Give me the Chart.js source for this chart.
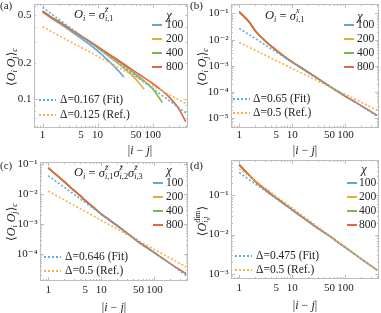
<!DOCTYPE html>
<html><head><meta charset="utf-8">
<script src="https://cdn.jsdelivr.net/npm/chart.js@4.4.1/dist/chart.umd.min.js"></script>
<style>
body{margin:0;background:#fff;width:381px;height:313px;position:relative;overflow:hidden;font-family:'Liberation Serif','DejaVu Serif','DejaVu Sans',serif;color:#222}
canvas{position:absolute}
.t{position:absolute;white-space:nowrap;line-height:1}
.ss{display:inline-block;vertical-align:-0.28em;font-size:66%;line-height:1.05;text-align:left}
.ss span{display:block}
sub{font-size:68%;vertical-align:-0.3em;line-height:0}
</style></head><body>
<canvas id="pa" width="190" height="145" style="left:0;top:0"></canvas>
<canvas id="pb" width="191" height="145" style="left:190px;top:0"></canvas>
<canvas id="pc" width="190" height="150" style="left:0;top:150px"></canvas>
<canvas id="pd" width="191" height="150" style="left:190px;top:150px"></canvas>
<script>
const FONT = "'Liberation Serif','DejaVu Serif',serif";
const SEP = [1,1.5,2,3,4,5,7,10,15,20,30,50,70,100,150,200,300,400];
const DOT_X = [1, 400];
const CHI = ['100','200','400','800'];
const X_TICKS = [1,5,10,50,100];
const X_LABELS = ['1','5','10','50','100'];

// (a) sigma^z_{i,1}
const A_Y_TICKS = [0.1,0.2,0.5];
const A_Y_LABELS = ['0.1','0.2','0.5'];
const A_100 = [0.53,0.465,0.43,0.378,0.344,0.32,0.287,0.252,0.213,0.188,0.153];
const A_200 = [0.54,0.472,0.437,0.387,0.354,0.331,0.299,0.266,0.232,0.210,0.181,0.146,0.121];
const A_400 = [0.54,0.474,0.439,0.389,0.357,0.334,0.303,0.271,0.239,0.218,0.191,0.160,0.142,0.122,0.094];
const A_800 = [0.54,0.475,0.44,0.39,0.358,0.336,0.305,0.274,0.242,0.222,0.196,0.167,0.151,0.135,0.117,0.104,0.083,0.065];
const A_FIT = [0.58, 0.077];
const A_REF = [0.40, 0.092];

// (b) sigma^x_{i,1}
const B_Y_TICKS = [1e-1,1e-2,1e-3,1e-4,1e-5];
const B_Y_LABELS = ['10⁻¹','10⁻²','10⁻³','10⁻⁴','10⁻⁵'];
const B_100 = [0.115,0.05,0.022,0.0095,0.0056,0.0039,0.0023,0.00138,8.2e-4,5.5e-4,3.2e-4];
const B_200 = [0.115,0.05,0.022,0.0095,0.0056,0.0039,0.0023,0.00138,8.2e-4,5.6e-4,3.3e-4,1.62e-4,1.04e-4];
const B_400 = [0.115,0.05,0.022,0.0095,0.0056,0.0039,0.0023,0.00138,8.2e-4,5.6e-4,3.3e-4,1.65e-4,1.08e-4,6.7e-5,4.1e-5];
const B_800 = [0.115,0.05,0.022,0.0095,0.0056,0.0039,0.0023,0.00138,8.2e-4,5.6e-4,3.3e-4,1.65e-4,1.08e-4,6.8e-5,4.2e-5,2.95e-5,1.8e-5,1.25e-5];
const B_FIT = [0.027, 1.15e-5];
const B_REF = [0.0078, 2.0e-5];

// (c) sigma^z sigma^z sigma^z
const C_Y_TICKS = [1e-1,1e-2,1e-3,1e-4];
const C_Y_LABELS = ['10⁻¹','10⁻²','10⁻³','10⁻⁴'];
const C_100 = [0.074,0.04,0.026,0.0135,0.0088,0.006,0.0037,0.00215,1.28e-3,8.7e-4,5.0e-4];
const C_200 = [0.074,0.04,0.026,0.0135,0.0088,0.006,0.0037,0.00215,1.28e-3,8.8e-4,5.1e-4,2.5e-4,1.65e-4];
const C_400 = [0.074,0.04,0.026,0.0135,0.0088,0.006,0.0037,0.00215,1.28e-3,8.8e-4,5.1e-4,2.55e-4,1.7e-4,1.1e-4,6.6e-5];
const C_800 = [0.074,0.04,0.026,0.0135,0.0088,0.006,0.0037,0.00215,1.28e-3,8.8e-4,5.1e-4,2.55e-4,1.7e-4,1.12e-4,6.8e-5,4.8e-5,3.0e-5,2.2e-5];
const C_FIT = [0.041, 1.9e-5];
const C_REF = [0.0125, 3.7e-5];

// (d) dimer
const D_Y_TICKS = [1e-1,1e-2,1e-3];
const D_Y_LABELS = ['10⁻¹','10⁻²','10⁻³'];
const D_100 = [0.58,0.33,0.225,0.14,0.104,0.083,0.06,0.042,0.0285,0.0215,0.0145];
const D_200 = [0.58,0.33,0.225,0.14,0.104,0.083,0.06,0.042,0.0285,0.0215,0.0145,0.0092,0.0066];
const D_400 = [0.58,0.33,0.225,0.14,0.104,0.083,0.06,0.042,0.0285,0.0215,0.0145,0.0092,0.0066,0.0047,0.0032];
const D_800 = [0.58,0.33,0.225,0.14,0.104,0.083,0.06,0.042,0.0285,0.0215,0.0145,0.0092,0.0066,0.0047,0.0032,0.0024,0.00163,0.00125];
const D_FIT = [0.37, 1.25e-3];
const D_REF = [0.46, 1.2e-3];

const COLORS = ['#5ba6dc','#f0a63a','#7db84a','#e5653c'];
const FIT_COLOR = '#5aaee2', REF_COLOR = '#f6b24a';

function pts(xs, ys) { return ys.map((y, i) => ({ x: xs[i], y })); }

function logMarks(min, max) {
  const out = [];
  for (let k = Math.floor(Math.log10(min)); k <= Math.ceil(Math.log10(max)); k++)
    for (let m = 1; m <= 9; m++) {
      const v = m * Math.pow(10, k);
      if (v >= min && v <= max) out.push(v);
    }
  return out;
}

const framePlugin = {
  id: 'frame',
  beforeDatasetsDraw(chart) {
    const { ctx, chartArea: a, scales: { x, y } } = chart;
    ctx.save();
    ctx.strokeStyle = '#bdbdbd'; ctx.lineWidth = 1;
    ctx.strokeRect(Math.round(a.left) + 0.5, Math.round(a.top) + 0.5,
      Math.round(a.right - a.left) - 1, Math.round(a.bottom - a.top) - 1);
    ctx.beginPath();
    const isMajor = v => Math.abs(Math.log10(v) - Math.round(Math.log10(v))) < 1e-6;
    for (const v of logMarks(x.min, x.max)) {
      const p = Math.round(x.getPixelForValue(v)) + 0.5, len = isMajor(v) ? 4 : 2;
      ctx.moveTo(p, a.bottom); ctx.lineTo(p, a.bottom - len);
      ctx.moveTo(p, a.top); ctx.lineTo(p, a.top + len);
    }
    for (const v of logMarks(y.min, y.max)) {
      const p = Math.round(y.getPixelForValue(v)) + 0.5, len = isMajor(v) ? 4 : 2;
      ctx.moveTo(a.left, p); ctx.lineTo(a.left + len, p);
      ctx.moveTo(a.right, p); ctx.lineTo(a.right - len, p);
    }
    ctx.stroke();
    ctx.restore();
  }
};

function makePanel(id, p) {
  const [fl, ft, fr, fb] = p.frame;
  const cv = document.getElementById(id);
  const W = cv.width, H = cv.height;
  const solid = p.series.map((ys, i) => ({
    label: CHI[i], data: pts(SEP, ys), borderColor: COLORS[i], borderWidth: 1.6,
    pointRadius: 0, fill: false, cubicInterpolationMode: 'monotone'
  })).reverse();
  const dotted = [
    { label: 'fit', data: pts(DOT_X, p.fit), borderColor: FIT_COLOR, borderWidth: 1.6, borderDash: [2, 2], pointRadius: 0 },
    { label: 'ref', data: pts(DOT_X, p.ref), borderColor: REF_COLOR, borderWidth: 1.6, borderDash: [2, 2], pointRadius: 0 },
  ];
  new Chart(cv, {
    type: 'line',
    data: { datasets: [...dotted, ...solid] },
    options: {
      responsive: false, animation: false, events: [],
      layout: { padding: { left: 0, top: ft, right: W - fr, bottom: 0 } },
      plugins: { legend: { display: false }, tooltip: { enabled: false } },
      scales: {
        x: {
          type: 'logarithmic', min: 0.72, max: 430,
          grid: { display: false, drawTicks: false }, border: { display: false },
          ticks: { autoSkip: false, maxRotation: 0, padding: p.xPad, color: '#222',
                   font: { family: FONT, size: 11 },
                   callback: v => { const i = X_TICKS.indexOf(v); return i < 0 ? '' : X_LABELS[i]; } },
          afterBuildTicks: s => { s.ticks = X_TICKS.map(v => ({ value: v })); },
          afterFit: s => { s.height = H - fb; s.paddingLeft = 0; s.paddingRight = 0; }
        },
        y: {
          type: 'logarithmic', min: p.ymin, max: p.ymax,
          grid: { display: false, drawTicks: false }, border: { display: false },
          ticks: { autoSkip: false, padding: 2.5, color: '#222',
                   font: { family: FONT, size: 11 },
                   callback: v => { const i = p.yticks.indexOf(v); return i < 0 ? '' : p.ylabels[i]; } },
          afterBuildTicks: s => { s.ticks = p.yticks.map(v => ({ value: v })); },
          afterFit: s => { s.width = fl; s.paddingTop = 0; s.paddingBottom = 0; }
        }
      }
    },
    plugins: [framePlugin]
  });
}

makePanel('pa', { frame: [34, 4, 187.5, 127.5], ymin: 0.0582, ymax: 0.618, xPad: 1.5,
  yticks: A_Y_TICKS, ylabels: A_Y_LABELS, series: [A_100, A_200, A_400, A_800], fit: A_FIT, ref: A_REF });
makePanel('pb', { frame: [41, 4, 189, 127.5], ymin: 4.33e-6, ymax: 0.231, xPad: 1.5,
  yticks: B_Y_TICKS, ylabels: B_Y_LABELS, series: [B_100, B_200, B_400, B_800], fit: B_FIT, ref: B_REF });
makePanel('pc', { frame: [40, 12, 188, 131], ymin: 1.26e-5, ymax: 0.117, xPad: 3,
  yticks: C_Y_TICKS, ylabels: C_Y_LABELS, series: [C_100, C_200, C_400, C_800], fit: C_FIT, ref: C_REF });
makePanel('pd', { frame: [41, 10, 189, 129], ymin: 7.47e-4, ymax: 0.77, xPad: 3,
  yticks: D_Y_TICKS, ylabels: D_Y_LABELS, series: [D_100, D_200, D_400, D_800], fit: D_FIT, ref: D_REF });

// ---- overlay text ----
function txt(html, x, y, size, mode) {
  const d = document.createElement('div');
  d.className = 't'; d.innerHTML = html;
  d.style.left = x + 'px'; d.style.top = y + 'px'; d.style.fontSize = size + 'px';
  let tf = mode === 'left' ? 'translate(0,-50%)' : 'translate(-50%,-50%)';
  if (mode === 'rot') tf += ' rotate(-90deg)';
  d.style.transform = tf;
  document.body.appendChild(d);
}
function seg(x1, x2, y, color, dotted) {
  const d = document.createElement('div');
  d.style.cssText = `position:absolute;left:${x1}px;top:${Math.round(y) - 1}px;width:${x2 - x1}px;height:2px;` +
    (dotted ? `background:repeating-linear-gradient(90deg,${color} 0 2px,transparent 2px 4px)` : `background:${color}`);
  document.body.appendChild(d);
}
function chiLegend(chiX, chiY, lx, tx, ys) {
  txt('<i>χ</i>', chiX, chiY, 12.5, 'center');
  ys.forEach((y, i) => { seg(lx, lx + 10, y, COLORS[i], false); txt(CHI[i], tx, y, 11.5, 'left'); });
}
function deltaLegend(lx, tx, y1, y2, fitTxt, refTxt) {
  seg(lx, lx + 17, y1, FIT_COLOR, true); txt(fitTxt, tx, y1, 11.5, 'left');
  seg(lx, lx + 17, y2, REF_COLOR, true); txt(refTxt, tx, y2, 11.5, 'left');
}
const stack = (sup, sub) => `<span class="ss"><span>${sup}</span><span>${sub}</span></span>`;
const corr = '⟨<i>O</i><sub><i>i</i></sub> <i>O</i><sub><i>j</i></sub>⟩<sub><i>c</i></sub>';
const dist = '|<i>i</i> − <i>j</i>|';

txt('(a)', 0, 5, 11, 'left');
txt('(b)', 190, 5, 11, 'left');
txt('(c)', 0, 165, 11, 'left');
txt('(d)', 190, 165, 11, 'left');

txt('<i>O<sub>i</sub></i> = <i>σ</i>' + stack('<i>z̃</i>', '<i>i</i>,1'), 74, 15, 12.5, 'left');
txt('<i>O<sub>i</sub></i> = <i>σ</i>' + stack('<i>x</i>', '<i>i</i>,1'), 265, 16, 12.5, 'left');
txt('<i>O<sub>i</sub></i> = <i>σ</i>' + stack('<i>z̃</i>', '<i>i</i>,1') + '<i>σ</i>' + stack('<i>z̃</i>', '<i>i</i>,2') +
    '<i>σ</i>' + stack('<i>z̃</i>', '<i>i</i>,3'), 74, 173, 12.5, 'left');

chiLegend(169, 15, 152, 166, [25, 39, 53, 67]);
chiLegend(360, 16, 344, 357, [25, 39, 53, 67]);
chiLegend(169, 170, 153, 166, [183, 197, 211, 225]);
chiLegend(364, 169, 347, 359, [183, 197, 211, 225]);

deltaLegend(39, 60, 100, 115, 'Δ=0.167 (Fit)', 'Δ=0.125 (Ref.)');
deltaLegend(233, 253, 99, 113, 'Δ=0.65 (Fit)', 'Δ=0.5 (Ref.)');
deltaLegend(44, 65, 257, 271, 'Δ=0.646 (Fit)', 'Δ=0.5 (Ref.)');
deltaLegend(235, 256, 256, 270, 'Δ=0.475 (Fit)', 'Δ=0.5 (Ref.)');

txt(corr, 11, 67, 12, 'rot');
txt(corr, 202, 67, 12, 'rot');
txt(corr, 11, 222, 12, 'rot');
txt('⟨<i>O</i>' + stack('dim', '<i>i</i>,<i>j</i>') + '⟩', 202, 221, 12, 'rot');

txt(dist, 140, 150, 12, 'center');
txt(dist, 305, 150, 12, 'center');
txt(dist, 114, 306.5, 12, 'center');
txt(dist, 305, 305, 12, 'center');
</script>
</body></html>
